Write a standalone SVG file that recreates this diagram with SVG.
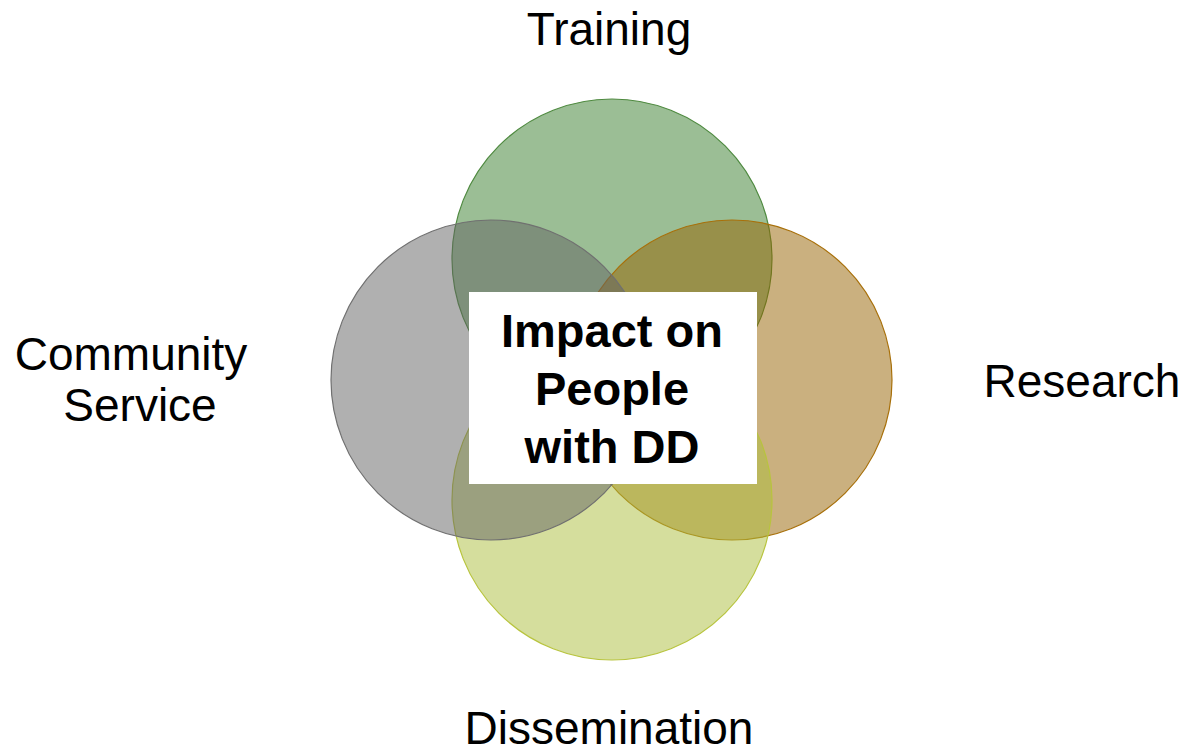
<svg xmlns="http://www.w3.org/2000/svg" width="1188" height="751" viewBox="0 0 1188 751">
<style>
.c{stroke-width:1.2;fill-opacity:0.5}
.lbl{font-family:"Liberation Sans",Arial,sans-serif;font-size:46px;fill:#000;text-anchor:middle}
.ctr{font-family:"Liberation Sans",Arial,sans-serif;font-size:47px;font-weight:bold;fill:#000;text-anchor:middle}
</style>
<rect width="1188" height="751" fill="#fff"/>
<g id="training">
<circle class="c" cx="612" cy="259" r="160" fill="#377D2B" stroke="#4F8A40"/>
<text class="lbl" x="609" y="45">Training</text>
</g>
<g id="research">
<circle class="c" cx="732" cy="380" r="160" fill="#966100" stroke="#A8700A"/>
<text class="lbl" x="1082" y="397">Research</text>
</g>
<g id="dissemination">
<circle class="c" cx="612" cy="500" r="160" fill="#ABBD3B" stroke="#B8C43E"/>
<text class="lbl" x="609" y="744">Dissemination</text>
</g>
<g id="community">
<circle class="c" cx="491" cy="380" r="160" fill="#616161" stroke="#707070"/>
<text class="lbl" x="131" y="370">Community</text>
<text class="lbl" x="140" y="421">Service</text>
</g>
<g id="center">
<rect x="469" y="292" width="288" height="192" fill="#fff"/>
<text class="ctr" x="612" y="347">Impact on</text>
<text class="ctr" x="612" y="405">People</text>
<text class="ctr" x="612" y="463">with DD</text>
</g>
<g id="connectors"/>
</svg>
